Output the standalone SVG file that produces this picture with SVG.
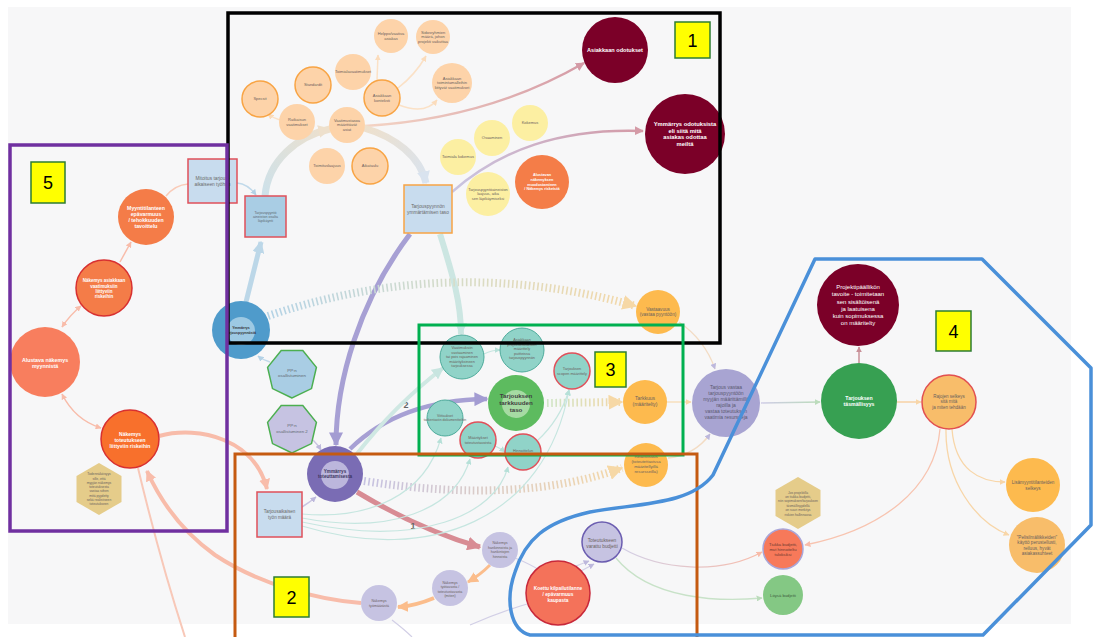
<svg xmlns="http://www.w3.org/2000/svg" width="1094" height="637" viewBox="0 0 1094 637">
<defs>
<style>
.f{font-family:"Liberation Sans",Arial,Helvetica,sans-serif;text-anchor:middle}
.g{fill:#6a625e}
.w{fill:#fff;font-weight:bold}
.wr{fill:#fff}
.bd{font-weight:bold}
.peach{fill:#fdd3a9}
.peachs{fill:#fdd3a9;stroke:#f8a444;stroke-width:1.5}
.yel{fill:#fcefa2}
.dred{fill:#7b0028}
.box{fill:#c8dcee}
.teal{fill:#90d3c8;stroke:#4eab9b;stroke-width:1}
.tealr{fill:#90d3c8;stroke:#e0505a;stroke-width:1.5}
.org{fill:#fdba4e}
.lav{fill:#c6c3e2}
.hex{fill:#e5cc8a}
.lbl{fill:#ffff00;stroke:#2e7d32;stroke-width:1.5}
.lt{font-family:"Liberation Sans",Arial,sans-serif;font-size:18px;text-anchor:middle;fill:#000}
.c{fill:none}
</style>
<marker id="mPeach" viewBox="0 0 10 10" refX="9" refY="5" markerWidth="6" markerHeight="6" markerUnits="userSpaceOnUse" orient="auto"><path d="M0,0L10,5L0,10z" fill="#fbdcbc"/></marker>
<marker id="mPink" viewBox="0 0 10 10" refX="9" refY="5" markerWidth="9" markerHeight="9" markerUnits="userSpaceOnUse" orient="auto"><path d="M0,0L10,5L0,10z" fill="#d49aa6"/></marker>
<marker id="mLav" viewBox="0 0 10 10" refX="9" refY="5" markerWidth="6" markerHeight="6" markerUnits="userSpaceOnUse" orient="auto"><path d="M0,0L10,5L0,10z" fill="#bdb8dc"/></marker>
<marker id="mPurp" viewBox="0 0 10 10" refX="9" refY="5" markerWidth="14" markerHeight="14" markerUnits="userSpaceOnUse" orient="auto"><path d="M0,0L10,5L0,10z" fill="#a39cd2"/></marker>
<marker id="mBlue" viewBox="0 0 10 10" refX="9" refY="5" markerWidth="12" markerHeight="12" markerUnits="userSpaceOnUse" orient="auto"><path d="M0,0L10,5L0,10z" fill="#bcd7e8"/></marker>
<marker id="mBlueS" viewBox="0 0 10 10" refX="9" refY="5" markerWidth="6" markerHeight="6" markerUnits="userSpaceOnUse" orient="auto"><path d="M0,0L10,5L0,10z" fill="#b4d2e6"/></marker>
<marker id="mBeige" viewBox="0 0 10 10" refX="9" refY="5" markerWidth="13" markerHeight="13" markerUnits="userSpaceOnUse" orient="auto"><path d="M0,0L10,5L0,10z" fill="#eee0cc"/></marker>
<marker id="mBlueG" viewBox="0 0 10 10" refX="9" refY="5" markerWidth="13" markerHeight="13" markerUnits="userSpaceOnUse" orient="auto"><path d="M0,0L10,5L0,10z" fill="#d9e3ef"/></marker>
<marker id="mTealL" viewBox="0 0 10 10" refX="9" refY="5" markerWidth="12" markerHeight="12" markerUnits="userSpaceOnUse" orient="auto"><path d="M0,0L10,5L0,10z" fill="#c8e5e0"/></marker>
<marker id="mTealS" viewBox="0 0 10 10" refX="9" refY="5" markerWidth="6" markerHeight="6" markerUnits="userSpaceOnUse" orient="auto"><path d="M0,0L10,5L0,10z" fill="#b6e0d8"/></marker>
<marker id="mDot" viewBox="0 0 10 10" refX="9" refY="5" markerWidth="15" markerHeight="15" markerUnits="userSpaceOnUse" orient="auto"><path d="M0,0L10,5L0,10z" fill="#f6d8a6"/></marker>
<marker id="mSalL" viewBox="0 0 10 10" refX="9" refY="5" markerWidth="11" markerHeight="11" markerUnits="userSpaceOnUse" orient="auto"><path d="M0,0L10,5L0,10z" fill="#f8bcaa"/></marker>
<marker id="mSalS" viewBox="0 0 10 10" refX="9" refY="5" markerWidth="6" markerHeight="6" markerUnits="userSpaceOnUse" orient="auto-start-reverse"><path d="M0,0L10,5L0,10z" fill="#f8bcaa"/></marker>
<marker id="mRed" viewBox="0 0 10 10" refX="9" refY="5" markerWidth="14" markerHeight="14" markerUnits="userSpaceOnUse" orient="auto"><path d="M0,0L10,5L0,10z" fill="#d88c94"/></marker>
<marker id="mOr" viewBox="0 0 10 10" refX="9" refY="5" markerWidth="11" markerHeight="11" markerUnits="userSpaceOnUse" orient="auto"><path d="M0,0L10,5L0,10z" fill="#fbbd8c"/></marker>
<marker id="mGreen" viewBox="0 0 10 10" refX="9" refY="5" markerWidth="6" markerHeight="6" markerUnits="userSpaceOnUse" orient="auto"><path d="M0,0L10,5L0,10z" fill="#bcdcbc"/></marker>
<marker id="mDR" viewBox="0 0 10 10" refX="9" refY="5" markerWidth="6" markerHeight="6" markerUnits="userSpaceOnUse" orient="auto"><path d="M0,0L10,5L0,10z" fill="#c89098"/></marker>
<marker id="mBeigeS" viewBox="0 0 10 10" refX="9" refY="5" markerWidth="6" markerHeight="6" markerUnits="userSpaceOnUse" orient="auto"><path d="M0,0L10,5L0,10z" fill="#f8d6a8"/></marker>
<linearGradient id="gPink" gradientUnits="userSpaceOnUse" x1="365" y1="126" x2="584" y2="62"><stop offset="0" stop-color="#f4d4c4"/><stop offset="1" stop-color="#d49aa6"/></linearGradient>
<linearGradient id="gLavPink" gradientUnits="userSpaceOnUse" x1="452" y1="192" x2="643" y2="131"><stop offset="0" stop-color="#c9c5e2"/><stop offset="1" stop-color="#d49aa6"/></linearGradient>
<linearGradient id="gArcA" gradientUnits="userSpaceOnUse" x1="265" y1="196" x2="330" y2="128"><stop offset="0" stop-color="#cde1ea"/><stop offset="1" stop-color="#eee0cc"/></linearGradient>
<linearGradient id="gArcB" gradientUnits="userSpaceOnUse" x1="364" y1="128" x2="426" y2="182"><stop offset="0" stop-color="#eee0cc"/><stop offset="1" stop-color="#d9e3ef"/></linearGradient>
<linearGradient id="gDotE" gradientUnits="userSpaceOnUse" x1="268" y1="0" x2="636" y2="0"><stop offset="0" stop-color="#b4d3e6"/><stop offset="0.5" stop-color="#d6dcc8"/><stop offset="1" stop-color="#f4d8a8"/></linearGradient>
<linearGradient id="gDotF" gradientUnits="userSpaceOnUse" x1="547" y1="0" x2="622" y2="0"><stop offset="0" stop-color="#cfe5c6"/><stop offset="1" stop-color="#f4d8a8"/></linearGradient>
<linearGradient id="gDotG" gradientUnits="userSpaceOnUse" x1="364" y1="0" x2="622" y2="0"><stop offset="0" stop-color="#c6c2e2"/><stop offset="1" stop-color="#f4d8a8"/></linearGradient>
<linearGradient id="gLavGreen" gradientUnits="userSpaceOnUse" x1="761" y1="0" x2="820" y2="0"><stop offset="0" stop-color="#cfcce6"/><stop offset="1" stop-color="#bcdcbc"/></linearGradient>
<linearGradient id="gLavSal" gradientUnits="userSpaceOnUse" x1="622" y1="0" x2="762" y2="0"><stop offset="0" stop-color="#d2cfe6"/><stop offset="1" stop-color="#f8bcaa"/></linearGradient>
<polygon id="hept" points="0,25 -19.5,15.6 -24.4,-5.6 -10.8,-22.5 10.8,-22.5 24.4,-5.6 19.5,15.6"/>
<polygon id="hexa" points="0,-26 22.5,-13 22.5,13 0,26 -22.5,13 -22.5,-13"/>
</defs>

<!-- canvas -->
<rect x="0" y="0" width="1094" height="637" fill="#ffffff"/>
<rect x="8" y="7" width="1063" height="617" fill="#f7f7f8"/>

<!-- connectors -->
<g id="connectors" class="c">
  <!-- requirement cluster -->
  <path d="M377,80 L378,55" stroke="#fbe1c6" stroke-width="1.5" marker-end="url(#mPeach)"/>
  <path d="M398,88 Q415,75 426,56" stroke="#fbe1c6" stroke-width="1.5" marker-end="url(#mPeach)"/>
  <path d="M399,105 Q425,115 437,100" stroke="#fbe1c6" stroke-width="1.5" marker-end="url(#mPeach)"/>
  <path d="M280,120 Q273,118 268,114" stroke="#fbe1c6" stroke-width="1.5" marker-end="url(#mPeach)"/>
  <path d="M365,126 C450,121 520,100 584,63" stroke="url(#gPink)" stroke-width="2.5" marker-end="url(#mPink)"/>
  <path d="M452,192 C500,150 560,128 643,131" stroke="url(#gLavPink)" stroke-width="2.5" marker-end="url(#mPink)"/>
  <path d="M265,196 C268,160 298,136 330,129" stroke="url(#gArcA)" stroke-width="7" marker-end="url(#mBeige)"/>
  <path d="M364,128 C395,137 420,156 426,183" stroke="url(#gArcB)" stroke-width="7" marker-end="url(#mBlueG)"/>
  <path d="M440,234 C451,270 461,300 461,334" stroke="#cce6e2" stroke-width="6" marker-end="url(#mTealL)"/>
  <path d="M410,234 C360,300 336,380 336,445" stroke="#a7a0d4" stroke-width="5" marker-end="url(#mPurp)"/>
  <path d="M246,302 L261,242" stroke="#bcd7e8" stroke-width="5" marker-end="url(#mBlue)"/>
  <path d="M237,183 Q248,184 256,195" stroke="#c0d9ea" stroke-width="1.5" marker-end="url(#mBlueS)"/>
  <path d="M270,362 Q263,360 258,356" stroke="#c0d9ea" stroke-width="1.5" marker-end="url(#mBlueS)"/>
  <path d="M313,440 Q318,445 321,450" stroke="#c9c5e2" stroke-width="1.5" marker-end="url(#mLav)"/>
  <path d="M302,507 Q310,502 316,497" stroke="#c9c5e2" stroke-width="1.5" marker-end="url(#mLav)"/>
  <!-- dotted quality links -->
  <path d="M268,316 Q450,254 636,306" stroke="url(#gDotE)" stroke-width="8" stroke-dasharray="1.6 2.6" marker-end="url(#mDot)"/>
  <path d="M547,403 L622,402" stroke="url(#gDotF)" stroke-width="8" stroke-dasharray="1.6 2.6" marker-end="url(#mDot)"/>
  <path d="M364,481 Q520,505 622,468" stroke="url(#gDotG)" stroke-width="8" stroke-dasharray="1.6 2.6" marker-end="url(#mDot)"/>
  <!-- numbered paths -->
  <path d="M350,449 Q400,400 487,399" stroke="#a7a0d4" stroke-width="4.5" marker-end="url(#mPurp)"/>
  <text class="f bd" x="406" y="408" font-size="9" fill="#666">2</text>
  <path d="M357,492 Q420,530 480,547" stroke="#d88c94" stroke-width="5" marker-end="url(#mRed)"/>
  <text class="f bd" x="413" y="529" font-size="9" fill="#666">1</text>
  <path d="M356,455 Q395,405 443,368" stroke="#cfe8e3" stroke-width="4" marker-end="url(#mTealL)"/>
  <!-- work estimate chain -->
  <path d="M490,565 Q480,575 468,582" stroke="#fbbd8c" stroke-width="3" marker-end="url(#mOr)"/>
  <path d="M434,598 Q415,606 398,607" stroke="#fbbd8c" stroke-width="4" marker-end="url(#mOr)"/>
  <path d="M361,603 C320,600 260,585 215,555 C180,530 160,500 147,471" stroke="#f8bcaa" stroke-width="4" marker-end="url(#mSalL)"/>
  <path d="M138,468 Q160,560 185,637" stroke="#f8c8b8" stroke-width="2"/>
  <path d="M159,436 C200,425 255,440 267,489" stroke="#f8bcaa" stroke-width="4" marker-end="url(#mSalL)"/>
  <path d="M392,620 Q405,630 412,637" stroke="#d2cfe6" stroke-width="1.2"/>
  <path d="M515,558 Q530,564 541,571" stroke="#d2cfe6" stroke-width="1.2"/>
  <path d="M470,625 Q500,612 527,604" stroke="#d2cfe6" stroke-width="1.2"/>
  <!-- sales view chain -->
  <path d="M166,196 Q175,185 188,184" stroke="#f9cbb8" stroke-width="1.5"/>
  <path d="M120,262 L131,242" stroke="#f8bcaa" stroke-width="1.5" marker-end="url(#mSalS)"/>
  <path d="M62,327 Q70,315 81,306" stroke="#f8bcaa" stroke-width="1.5" marker-start="url(#mSalS)" marker-end="url(#mSalS)"/>
  <path d="M62,394 Q75,420 101,428" stroke="#f8bcaa" stroke-width="1.5" marker-start="url(#mSalS)" marker-end="url(#mSalS)"/>
  <!-- work amount to offer details -->
  <path d="M302,514 C370,520 425,495 441,438" stroke="#c6e6e0" stroke-width="1.2" marker-end="url(#mTealS)"/>
  <path d="M302,518 C390,535 455,510 470,459" stroke="#c6e6e0" stroke-width="1.2" marker-end="url(#mTealS)"/>
  <path d="M302,522 C420,548 495,515 508,467" stroke="#c6e6e0" stroke-width="1.2" marker-end="url(#mTealS)"/>
  <path d="M302,526 C430,565 545,520 569,390" stroke="#c6e6e0" stroke-width="1.2" marker-end="url(#mTealS)"/>
  <path d="M484,354 Q492,350 500,350" stroke="#c6e6e0" stroke-width="1.2" marker-end="url(#mTealS)"/>
  <path d="M495,446 Q500,448 505,452" stroke="#c6e6e0" stroke-width="1.2" marker-end="url(#mTealS)"/>
  <path d="M537,441 Q560,420 569,390" stroke="#c6e6e0" stroke-width="1.2" marker-end="url(#mTealS)"/>
  <!-- offer quality -->
  <path d="M667,402 L691,402" stroke="#f8dcb4" stroke-width="1.3" marker-end="url(#mBeigeS)"/>
  <path d="M679,322 Q705,340 715,369" stroke="#f3dcc4" stroke-width="1.3" marker-end="url(#mLav)"/>
  <path d="M668,458 Q695,455 710,434" stroke="#f3dcc4" stroke-width="1.3" marker-end="url(#mLav)"/>
  <path d="M761,403 L820,402" stroke="url(#gLavGreen)" stroke-width="1.3" marker-end="url(#mGreen)"/>
  <path d="M859,363 L859,347" stroke="#c89098" stroke-width="1.5" marker-end="url(#mDR)"/>
  <path d="M897,402 L921,402" stroke="#f8cc98" stroke-width="1.3" marker-end="url(#mBeigeS)"/>
  <path d="M952,429 C955,470 980,482 1005,482" stroke="#f8d6a8" stroke-width="1.3" marker-end="url(#mBeigeS)"/>
  <path d="M946,429 C945,480 975,522 1009,535" stroke="#f8d6a8" stroke-width="1.3" marker-end="url(#mBeigeS)"/>
  <path d="M940,429 C935,490 880,530 805,545" stroke="#f8c4b0" stroke-width="1.3" marker-end="url(#mSalS)"/>
  <!-- budget -->
  <path d="M622,548 C660,570 720,575 762,552" stroke="url(#gLavSal)" stroke-width="1.3" marker-end="url(#mSalS)"/>
  <path d="M616,558 C650,600 720,602 762,598" stroke="#c8e2c8" stroke-width="1.3" marker-end="url(#mGreen)"/>
  <path d="M576,566 L589,561" stroke="#d2cfe6" stroke-width="1.2" marker-end="url(#mLav)"/>
  <path d="M581,571 L594,564" stroke="#d2cfe6" stroke-width="1.2" marker-end="url(#mLav)"/>
</g>

<!-- requirement cluster -->
<g id="n-helppo"><circle cx="391" cy="36" r="17" class="peach"/><text class="f g" font-size="4"><tspan x="391" y="35">Helppo/vaativa</tspan><tspan x="391" y="39.8">asiakas</tspan></text></g>
<g id="n-sidosryhmat"><circle cx="433" cy="37" r="17" class="peach"/><text class="f g" font-size="4"><tspan x="433" y="33.6">Sidosryhmien</tspan><tspan x="433" y="38.4">määrä, johon</tspan><tspan x="433" y="43.2">projekti vaikuttaa</tspan></text></g>
<g id="n-toimiala"><circle cx="353" cy="72" r="18" class="peach"/><text class="f g" font-size="4" x="353" y="73.4">Toimialavaatimukset</text></g>
<g id="n-standardit"><circle cx="313" cy="85" r="18" class="peachs"/><text class="f g" font-size="4" x="313" y="86.4">Standardit</text></g>
<g id="n-konteksti"><circle cx="382" cy="98" r="18" class="peachs"/><text class="f g" font-size="4"><tspan x="382" y="97">Asiakkaan</tspan><tspan x="382" y="101.8">konteksti</tspan></text></g>
<g id="n-toimintamallit"><circle cx="452" cy="83" r="20" class="peach"/><text class="f g" font-size="4"><tspan x="452" y="79.6">Asiakkaan</tspan><tspan x="452" y="84.4">toimintamalleihin</tspan><tspan x="452" y="89.2">liittyvät vaatimukset</tspan></text></g>
<g id="n-specsit"><circle cx="260" cy="99" r="18" class="peachs"/><text class="f g" font-size="4" x="260" y="100.4">Specsit</text></g>
<g id="n-ratkaisu"><circle cx="297" cy="122" r="18" class="peach"/><text class="f g" font-size="4"><tspan x="297" y="121">Ratkaisun</tspan><tspan x="297" y="125.8">vaatimukset</tspan></text></g>
<g id="n-vaatimustaso"><circle cx="347" cy="125" r="18" class="peach"/><text class="f g" font-size="4"><tspan x="347" y="121.6">Vaatimustasoa</tspan><tspan x="347" y="126.4">määrittävät</tspan><tspan x="347" y="131.2">asiat</tspan></text></g>
<g id="n-toimituslaajuus"><circle cx="327" cy="166" r="18" class="peach"/><text class="f g" font-size="4" x="327" y="167.4">Toimituslaajuus</text></g>
<g id="n-aikataulu"><circle cx="370" cy="166" r="18" class="peachs"/><text class="f g" font-size="4" x="370" y="167.4">Aikataulu</text></g>

<g id="n-kokemus"><circle cx="530" cy="123" r="18" class="yel"/><text class="f g" font-size="4" x="530" y="124.4">Kokemus</text></g>
<g id="n-osaaminen"><circle cx="492" cy="138" r="18" class="yel"/><text class="f g" font-size="4" x="492" y="139.4">Osaaminen</text></g>
<g id="n-toimialakokemus"><circle cx="458" cy="157" r="18" class="yel"/><text class="f g" font-size="4" x="458" y="158.4">Toimiala kokemus</text></g>
<g id="n-aineisto"><circle cx="488" cy="194" r="22" class="yel"/><text class="f g" font-size="3.9"><tspan x="488" y="190.7">Tarjouspyyntöaineiston</tspan><tspan x="488" y="195.4">laajuus, aika</tspan><tspan x="488" y="200.1">sen läpikäymiseksi</tspan></text></g>
<g id="n-alustavan"><circle cx="542" cy="182" r="27" fill="#f47d48"/><text class="f w" font-size="3.8"><tspan x="542" y="176.4">Alustavan</tspan><tspan x="542" y="181">näkemyksen</tspan><tspan x="542" y="185.6">muodostaminen</tspan><tspan x="542" y="190.2">/ Näkemys riskeistä</tspan></text></g>
<g id="n-odotukset"><circle cx="615" cy="50" r="33" class="dred"/><text class="f w" font-size="5.6" x="615" y="52">Asiakkaan odotukset</text></g>
<g id="n-ymmarrys-odotukset"><circle cx="685" cy="134" r="40" class="dred"/><text class="f w" font-size="5.8"><tspan x="685" y="126.3">Ymmärrys odotuksista</tspan><tspan x="685" y="132.8">eli siitä mitä</tspan><tspan x="685" y="139.3">asiakas odottaa</tspan><tspan x="685" y="145.8">meiltä</tspan></text></g>

<!-- request understanding -->
<g id="n-mitoitus"><rect x="188" y="159" width="49" height="44" class="box" stroke="#e0505a" stroke-width="1.5"/><text class="f" fill="#6a6a6a" font-size="4.8"><tspan x="212.5" y="180">Mitoitus tarjous-</tspan><tspan x="212.5" y="185.6">aikaiseen työhön</tspan></text></g>
<g id="n-lapikaynti"><rect x="245" y="196" width="41" height="41" fill="#a9cde4" stroke="#e0505a" stroke-width="1.5"/><text class="f" fill="#5f6a72" font-size="3.6"><tspan x="265.5" y="213.5">Tarjouspyyntö</tspan><tspan x="265.5" y="217.8">aineiston osalta</tspan><tspan x="265.5" y="222.1">läpikäynti</tspan></text></g>
<g id="n-ymmartamisen-taso"><rect x="404" y="185" width="48" height="48" class="box" stroke="#f8a444" stroke-width="1.5"/><text class="f" fill="#6a6a6a" font-size="4.8"><tspan x="428" y="208">Tarjouspyynnön</tspan><tspan x="428" y="213.6">ymmärtämisen taso</tspan></text></g>
<g id="n-ymmarrys-tp"><circle cx="241" cy="330" r="29" fill="#4f9bcb"/><circle cx="241" cy="331" r="14" fill="#9dc9e3"/><text class="f bd" fill="#333" font-size="3.6"><tspan x="241" y="329.2">Ymmärrys</tspan><tspan x="241" y="333.5">tarjouspyynnöstä</tspan></text></g>
<g id="n-pp1"><use href="#hept" x="292" y="373" fill="#a9cde4" stroke="#4caf50" stroke-width="1.5"/><text class="f" fill="#5f6a72" font-size="4.4"><tspan x="292" y="372">PP:n</tspan><tspan x="292" y="377.3">osallistuminen</tspan></text></g>
<g id="n-pp2"><use href="#hept" x="292" y="428" fill="#c6c3e2" stroke="#4caf50" stroke-width="1.5"/><text class="f" fill="#5f6a72" font-size="4.4"><tspan x="292" y="427.2">PP:n</tspan><tspan x="292" y="432.5">osallistuminen 2</tspan></text></g>

<!-- offer precision -->
<g id="n-vaatimuksiin"><circle cx="462" cy="357" r="22" class="teal"/><text class="f g" font-size="3.8"><tspan x="462" y="349.3">Vaatimuksiin</tspan><tspan x="462" y="353.8">vastaaminen</tspan><tspan x="462" y="358.3">tai pois rajaaminen</tspan><tspan x="462" y="362.8">määrityksineen</tspan><tspan x="462" y="367.3">tarjouksessa</tspan></text></g>
<g id="n-projektiosuudet"><circle cx="522" cy="350" r="22" class="teal"/><text class="f g" font-size="3.8"><tspan x="522" y="341.3">Asiakkaan</tspan><tspan x="522" y="345.8">projektiosuuksien</tspan><tspan x="522" y="350.3">määrittely</tspan><tspan x="522" y="354.8">puitteissa</tspan><tspan x="522" y="359.3">tarjouspyynnön</tspan></text></g>
<g id="n-scope"><circle cx="572" cy="371" r="18" class="tealr"/><text class="f g" font-size="3.8"><tspan x="572" y="370">Tarjouksen</tspan><tspan x="572" y="374.6">scopen määrittely</tspan></text></g>
<g id="n-tarkkuuden-taso"><circle cx="516" cy="403" r="28" fill="#5dbb5f"/><circle cx="516" cy="404" r="14" fill="#a6dba3"/><text class="f bd" fill="#3f3f3f" font-size="6.2"><tspan x="516" y="398.2">Tarjouksen</tspan><tspan x="516" y="405.2">tarkkuuden</tspan><tspan x="516" y="412.2">taso</tspan></text></g>
<g id="n-viittaukset"><circle cx="445" cy="418" r="18" class="teal"/><text class="f g" font-size="3.5"><tspan x="445" y="417">Viittaukset</tspan><tspan x="445" y="421.4">tarkentaviin dokumentteihin</tspan></text></g>
<g id="n-maaritykset"><circle cx="478" cy="440" r="18" class="tealr"/><text class="f g" font-size="3.8"><tspan x="478" y="439.2">Määritykset</tspan><tspan x="478" y="443.8">toteutustavoista</tspan></text></g>
<g id="n-hinnoittelu"><circle cx="523" cy="452" r="18" class="tealr"/><text class="f g" font-size="3.8" x="523" y="451.5">Hinnoittelun</text></g>

<g id="n-vastaavuus"><circle cx="658" cy="312" r="22" class="org"/><text class="f g" font-size="4.6"><tspan x="658" y="310.5">Vastaavuus</tspan><tspan x="658" y="316">(vastaa pyyntöön)</tspan></text></g>
<g id="n-tarkkuus"><circle cx="645" cy="402" r="22" class="org"/><text class="f g" font-size="5"><tspan x="645" y="400">Tarkkuus</tspan><tspan x="645" y="406">(määritelty)</tspan></text></g>
<g id="n-realistisuus"><circle cx="646" cy="465" r="22" class="org"/><text class="f g" font-size="4.3"><tspan x="646" y="457.6">Realistisuus</tspan><tspan x="646" y="462.7">(toteutettavissa</tspan><tspan x="646" y="467.8">määritellyillä</tspan><tspan x="646" y="472.9">resursseilla)</tspan></text></g>
<g id="n-tarjous-vastaa"><circle cx="726" cy="403" r="34" fill="#a8a4d2"/><text class="f" fill="#5a5870" font-size="5"><tspan x="726" y="388.7">Tarjous vastaa</tspan><tspan x="726" y="394.7">tarjouspyyntöön</tspan><tspan x="726" y="400.7">myyjän määrittämillä</tspan><tspan x="726" y="406.7">rajoilla ja</tspan><tspan x="726" y="412.7">vastaa toteutuksen</tspan><tspan x="726" y="418.7">vaatimia resursseja</tspan></text></g>

<!-- project manager view -->
<g id="n-projektipaallikko"><circle cx="858" cy="305" r="41" class="dred"/><text class="f wr" font-size="6"><tspan x="858" y="289.1">Projektipäällikön</tspan><tspan x="858" y="296.3">tavoite - toimitetaan</tspan><tspan x="858" y="303.5">sen sisältöisenä</tspan><tspan x="858" y="310.7">ja laatuisena</tspan><tspan x="858" y="317.9">kuin sopimuksessa</tspan><tspan x="858" y="325.1">on määritelty</tspan></text></g>
<g id="n-tasmallisyys"><circle cx="859" cy="401" r="38" fill="#37a052"/><text class="f w" font-size="5.2"><tspan x="859" y="399.8">Tarjouksen</tspan><tspan x="859" y="405.8">täsmällisyys</tspan></text></g>
<g id="n-rajat"><circle cx="949" cy="402" r="27" fill="#f8bd6a" stroke="#e25050" stroke-width="1.5"/><text class="f g" font-size="4.5"><tspan x="949" y="397.6">Rajojen selkeys</tspan><tspan x="949" y="403.2">sitä mitä</tspan><tspan x="949" y="408.8">ja miten tehdään</tspan></text></g>
<g id="n-lisamyynti"><circle cx="1033" cy="485" r="27" class="org"/><text class="f g" font-size="4.6"><tspan x="1033" y="483.5">Lisämyyntitilanteiden</tspan><tspan x="1033" y="489.5">selkeys</tspan></text></g>
<g id="n-pelisilma"><circle cx="1037" cy="545" r="28" fill="#f8bd6a"/><text class="f g" font-size="4.6"><tspan x="1037" y="538.5">"Pelisilmäliikkeiden"</tspan><tspan x="1037" y="544">käyttö perustellusti,</tspan><tspan x="1037" y="549.5">reiluus, hyvät</tspan><tspan x="1037" y="555">asiakassuhteet</tspan></text></g>
<g id="n-jos"><use href="#hexa" x="798" y="503" class="hex"/><text class="f g" font-size="3.3"><tspan x="798" y="493.5">Jos projektilla</tspan><tspan x="798" y="497.9">on tiukka budjetti,</tspan><tspan x="798" y="502.3">niin sopimuksen/tarjouksen</tspan><tspan x="798" y="506.7">täsmällisyydellä</tspan><tspan x="798" y="511.1">on suuri merkitys</tspan><tspan x="798" y="515.5">riskien hallinnassa</tspan></text></g>
<g id="n-tiukka"><circle cx="783" cy="549" r="20" fill="#f7795a" stroke="#a9a5d8" stroke-width="1.5"/><text class="f" fill="#6b3a30" font-size="4.2"><tspan x="783" y="545.5">Tiukka budjetti,</tspan><tspan x="783" y="550.5">mut hinnoiteltu</tspan><tspan x="783" y="555.5">tuloksiksi</tspan></text></g>
<g id="n-loysa"><circle cx="783" cy="595" r="20" fill="#84c884"/><text class="f" fill="#3f5f3f" font-size="4.2" x="783" y="596.5">Löysä budjetti</text></g>
<g id="n-toteutusbudjetti"><circle cx="602" cy="542" r="20" class="lav" stroke="#6b5db0" stroke-width="1.5"/><text class="f g" font-size="4.8"><tspan x="602" y="541.5">Toteutukseen</tspan><tspan x="602" y="547.5">varattu budjetti</tspan></text></g>
<g id="n-kilpailutilanne"><circle cx="558" cy="593" r="32" fill="#f4725a" stroke="#c8283a" stroke-width="1.5"/><text class="f w" font-size="4.8"><tspan x="558" y="589.7">Koettu kilpailutilanne</tspan><tspan x="558" y="595.7">/ epävarmuus</tspan><tspan x="558" y="601.7">kaupasta</tspan></text></g>

<!-- delivery estimate -->
<g id="n-ymmarrys-toteutus"><circle cx="335" cy="474" r="28" fill="#7a6cb4"/><circle cx="335" cy="475" r="14" fill="#bcb6dc"/><text class="f bd" fill="#3b3560" font-size="4.6"><tspan x="335" y="472.5">Ymmärrys</tspan><tspan x="335" y="478">toteuttamisesta</tspan></text></g>
<g id="n-tyon-maara"><rect x="257" y="492" width="45" height="45" class="box" stroke="#e0505a" stroke-width="1.5"/><text class="f" fill="#6a6a6a" font-size="4.6"><tspan x="279.5" y="513.3">Tarjousaikaisen</tspan><tspan x="279.5" y="518.8">työn määrä</tspan></text></g>
<g id="n-hankinnat"><circle cx="500" cy="550" r="18" class="lav"/><text class="f g" font-size="3.6"><tspan x="500" y="544.3">Näkemys</tspan><tspan x="500" y="548.8">hankinnoista ja</tspan><tspan x="500" y="553.3">hankintojen</tspan><tspan x="500" y="557.8">hinnoista</tspan></text></g>
<g id="n-tyotapa"><circle cx="450" cy="588" r="18" class="lav"/><text class="f g" font-size="3.6"><tspan x="450" y="584">Näkemys</tspan><tspan x="450" y="588.3">työtavasta /</tspan><tspan x="450" y="592.6">toteutustavasta</tspan><tspan x="450" y="596.9">(miten)</tspan></text></g>
<g id="n-tyomaara"><circle cx="379" cy="603" r="18" class="lav"/><text class="f g" font-size="3.6"><tspan x="379" y="602">Näkemys</tspan><tspan x="379" y="606.5">työmäärästä</tspan></text></g>

<!-- sales view -->
<g id="n-myyntitilanne"><circle cx="146" cy="217" r="28" fill="#f47c48"/><text class="f w" font-size="5.2"><tspan x="146" y="209.5">Myyntitilanteen</tspan><tspan x="146" y="215.5">epävarmuus</tspan><tspan x="146" y="221.5">/ tehokkuuden</tspan><tspan x="146" y="227.5">tavoittelu</tspan></text></g>
<g id="n-asiakasriskit"><circle cx="104" cy="288" r="28" fill="#f47c48" stroke="#d83030" stroke-width="1.5"/><text class="f w" font-size="4.5"><tspan x="104" y="282.3">Näkemys asiakkaan</tspan><tspan x="104" y="287.6">vaatimuksiin</tspan><tspan x="104" y="292.9">liittyviin</tspan><tspan x="104" y="298.2">riskeihin</tspan></text></g>
<g id="n-alustava"><circle cx="45" cy="362" r="35" fill="#f87e5e"/><text class="f w" font-size="5.3"><tspan x="45" y="361.9">Alustava näkemys</tspan><tspan x="45" y="367.9">myynnistä</tspan></text></g>
<g id="n-toteutusriskit"><circle cx="130" cy="439" r="29" fill="#f8702c" stroke="#d83030" stroke-width="1.5"/><text class="f w" font-size="5"><tspan x="130" y="435.8">Näkemys</tspan><tspan x="130" y="441.8">toteutukseen</tspan><tspan x="130" y="447.8">liittyviin riskeihin</tspan></text></g>
<g id="n-todennakoisyys"><use href="#hexa" x="99" y="489" class="hex"/><text class="f g" font-size="3.3"><tspan x="99" y="475.2">Todennäköisyys</tspan><tspan x="99" y="479.5">sille, että</tspan><tspan x="99" y="483.8">myyjän näkemys</tspan><tspan x="99" y="488.1">toteutuksesta</tspan><tspan x="99" y="492.4">vastaa siihen</tspan><tspan x="99" y="496.7">mitä pyydetty</tspan><tspan x="99" y="501">sekä realistiseen</tspan><tspan x="99" y="505.3">toteutukseen</tspan></text></g>

<!-- area frames -->
<g id="frames" fill="none">
  <rect x="228" y="13" width="492" height="330" stroke="#000" stroke-width="3.5"/>
  <rect x="10" y="145" width="217" height="386" stroke="#7030a0" stroke-width="3.5"/>
  <rect x="419" y="325" width="264" height="130" stroke="#00b050" stroke-width="3"/>
  <rect x="235" y="454" width="462" height="185" stroke="#c55a11" stroke-width="3"/>
  <path d="M815,259 L982,259 L1091,368 L1091,525 L983,635 L530,635 C510,630 505,600 515,572 C525,540 545,522 590,512 C640,503 690,505 713,475 Z" stroke="#4a90d9" stroke-width="3.5" stroke-linejoin="round"/>
</g>

<!-- area labels -->
<g id="label-1"><rect x="675" y="22" width="35" height="36" class="lbl"/><text class="lt" x="692.5" y="46.5">1</text></g>
<g id="label-2"><rect x="274" y="577" width="35" height="40" class="lbl"/><text class="lt" x="291.5" y="603.5">2</text></g>
<g id="label-3"><rect x="595" y="352" width="31" height="35" class="lbl"/><text class="lt" x="610.5" y="376">3</text></g>
<g id="label-4"><rect x="936" y="311" width="35" height="40" class="lbl"/><text class="lt" x="953.5" y="337.5">4</text></g>
<g id="label-5"><rect x="31" y="162" width="34" height="41" class="lbl"/><text class="lt" x="48" y="189">5</text></g>
</svg>
